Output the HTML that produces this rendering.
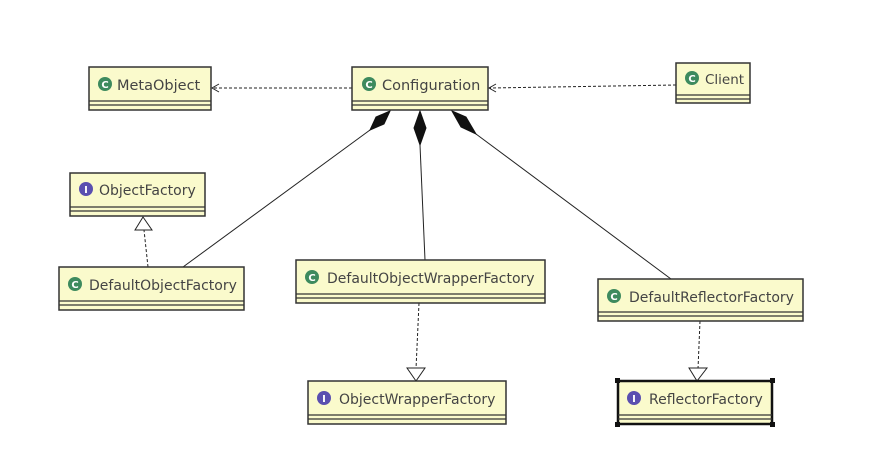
<!DOCTYPE html>
<html><head><style>
body{margin:0;background:#fff;}
svg text{font-family:"DejaVu Sans","Liberation Sans",sans-serif;}
</style></head><body>
<svg width="870" height="450" viewBox="0 0 870 450" xmlns="http://www.w3.org/2000/svg">
<defs>
<g id="c"><circle r="7" fill="#3d8a5e"/><text x="0" y="4" font-size="10" font-weight="bold" fill="#fff" text-anchor="middle">C</text></g>
<g id="i"><circle r="7" fill="#5a4fb0"/><text x="0" y="4" font-size="10" font-weight="bold" fill="#fff" text-anchor="middle">I</text></g>
</defs>
<g stroke="#222" stroke-width="1" fill="none">
<line x1="352" y1="88" x2="213" y2="88" stroke-dasharray="3,2"/>
<polyline points="219,84 212,88 219,92"/>
<line x1="676" y1="85" x2="490" y2="88" stroke-dasharray="3,2"/>
<polyline points="496,84 489,88 496,92"/>
<line x1="370" y1="130" x2="183" y2="267"/>
<line x1="420" y1="145" x2="425" y2="260"/>
<line x1="476" y1="134" x2="671" y2="279"/>
<line x1="148" y1="267" x2="144" y2="230" stroke-dasharray="3,2"/>
<line x1="419" y1="303" x2="416" y2="369" stroke-dasharray="3,2"/>
<line x1="700" y1="321" x2="698" y2="369" stroke-dasharray="3,2"/>
</g>
<g fill="#111" stroke="#111">
<polygon points="390,111 384,124 370,130 376,117"/>
<polygon points="420,111 426,128 420,145 414,128"/>
<polygon points="452,111 466,117 476,134 461,127"/>
</g>
<g fill="#fff" stroke="#222">
<polygon points="143,217 135,230 152,230"/>
<polygon points="416,381 407,368 425,368"/>
<polygon points="697,381 689,368 707,368"/>
</g>
<g stroke="#333" stroke-width="1.5" fill="#fafacc">
<rect x="89" y="67" width="122" height="43"/>
<rect x="352" y="67" width="136" height="43"/>
<rect x="676" y="63" width="74" height="40"/>
<rect x="70" y="173" width="135" height="43"/>
<rect x="59" y="267" width="185" height="43"/>
<rect x="296" y="260" width="249" height="43"/>
<rect x="598" y="279" width="205" height="42"/>
<rect x="308" y="381" width="198" height="43"/>
<rect x="618" y="381" width="154" height="43" stroke-width="2.5" stroke="#111"/>
</g>
<g stroke="#333" stroke-width="1.2">
<line x1="89" y1="101" x2="211" y2="101"/><line x1="89" y1="105" x2="211" y2="105"/>
<line x1="352" y1="101" x2="488" y2="101"/><line x1="352" y1="105" x2="488" y2="105"/>
<line x1="676" y1="95" x2="750" y2="95"/><line x1="676" y1="99" x2="750" y2="99"/>
<line x1="70" y1="207" x2="205" y2="207"/><line x1="70" y1="211" x2="205" y2="211"/>
<line x1="59" y1="301" x2="244" y2="301"/><line x1="59" y1="305" x2="244" y2="305"/>
<line x1="296" y1="294" x2="545" y2="294"/><line x1="296" y1="298" x2="545" y2="298"/>
<line x1="598" y1="312" x2="803" y2="312"/><line x1="598" y1="316" x2="803" y2="316"/>
<line x1="308" y1="415" x2="506" y2="415"/><line x1="308" y1="419" x2="506" y2="419"/>
<line x1="618" y1="415" x2="772" y2="415"/><line x1="618" y1="419" x2="772" y2="419"/>
</g>
<g fill="#111">
<rect x="615" y="378" width="5" height="5"/><rect x="770" y="378" width="5" height="5"/>
<rect x="615" y="422" width="5" height="5"/><rect x="770" y="422" width="5" height="5"/>
</g>
<g font-size="14.5" fill="#444">
<use href="#c" x="105" y="84"/><text x="117" y="90">MetaObject</text>
<use href="#c" x="369" y="84"/><text x="382" y="90">Configuration</text>
<use href="#c" x="692" y="78"/><text x="705" y="84" font-size="13.5">Client</text>
<use href="#i" x="86" y="189"/><text x="99" y="195" font-size="14">ObjectFactory</text>
<use href="#c" x="75" y="284"/><text x="89" y="290" font-size="14">DefaultObjectFactory</text>
<use href="#c" x="312" y="277"/><text x="327" y="283" font-size="14">DefaultObjectWrapperFactory</text>
<use href="#c" x="614" y="296"/><text x="629" y="302" font-size="14">DefaultReflectorFactory</text>
<use href="#i" x="324" y="398"/><text x="339" y="404" font-size="14">ObjectWrapperFactory</text>
<use href="#i" x="634" y="398"/><text x="649" y="404" font-size="14">ReflectorFactory</text>
</g>
</svg>
</body></html>
